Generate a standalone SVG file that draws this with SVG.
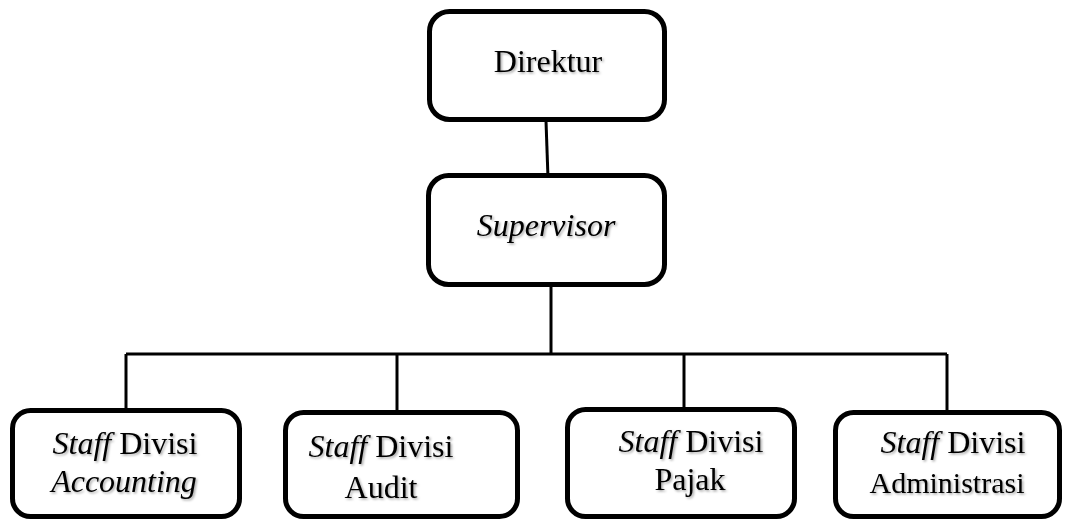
<svg xmlns="http://www.w3.org/2000/svg" width="1081" height="521" viewBox="0 0 1081 521">
<defs>
<filter id="sh" x="-10%" y="-20%" width="120%" height="140%">
<feDropShadow dx="1.5" dy="1.5" stdDeviation="1" flood-color="#000" flood-opacity="0.35"/>
</filter>
</defs>
<style>
.box{fill:#fff;stroke:#000;stroke-width:5}
.ln{fill:none;stroke:#000;stroke-width:3}
text{font-family:"Liberation Serif","Times New Roman",serif;font-size:32px;fill:#000;text-anchor:middle;filter:url(#sh)}
.it{font-style:italic}
</style>
<rect width="1081" height="521" fill="#fff"/>
<g id="connectors">
<path class="ln" d="M546 121 L548 178"/>
<path class="ln" d="M551 286 L551 354"/>
<path class="ln" d="M126 354 L947 354"/>
<path class="ln" d="M126 354 L126 409"/>
<path class="ln" d="M397 354 L397 411"/>
<path class="ln" d="M684 354 L684 408"/>
<path class="ln" d="M947 354 L947 411"/>
</g>
<g id="direktur">
<rect class="box" x="429.500" y="11.500" width="235" height="108" rx="20"/>
<text x="548" y="72">Direktur</text>
</g>
<g id="supervisor">
<rect class="box" x="428.500" y="175.500" width="236" height="109" rx="20"/>
<text x="546" y="236" class="it">Supervisor</text>
</g>
<g id="accounting">
<rect class="box" x="12.500" y="410.500" width="227" height="106" rx="18"/>
<text x="125" y="454"><tspan class="it">Staff</tspan> Divisi</text>
<text x="124" y="492" class="it">Accounting</text>
</g>
<g id="audit">
<rect class="box" x="285.500" y="412.500" width="232" height="104" rx="18"/>
<text x="381" y="457"><tspan class="it">Staff</tspan> Divisi</text>
<text x="381" y="498">Audit</text>
</g>
<g id="pajak">
<rect class="box" x="567.500" y="409.500" width="227" height="107" rx="18"/>
<text x="691" y="452"><tspan class="it">Staff</tspan> Divisi</text>
<text x="690" y="490">Pajak</text>
</g>
<g id="administrasi">
<rect class="box" x="835.500" y="412.500" width="224" height="104" rx="18"/>
<text x="953" y="453"><tspan class="it">Staff</tspan> Divisi</text>
<text x="947" y="493" style="font-size:30px">Administrasi</text>
</g>
</svg>
